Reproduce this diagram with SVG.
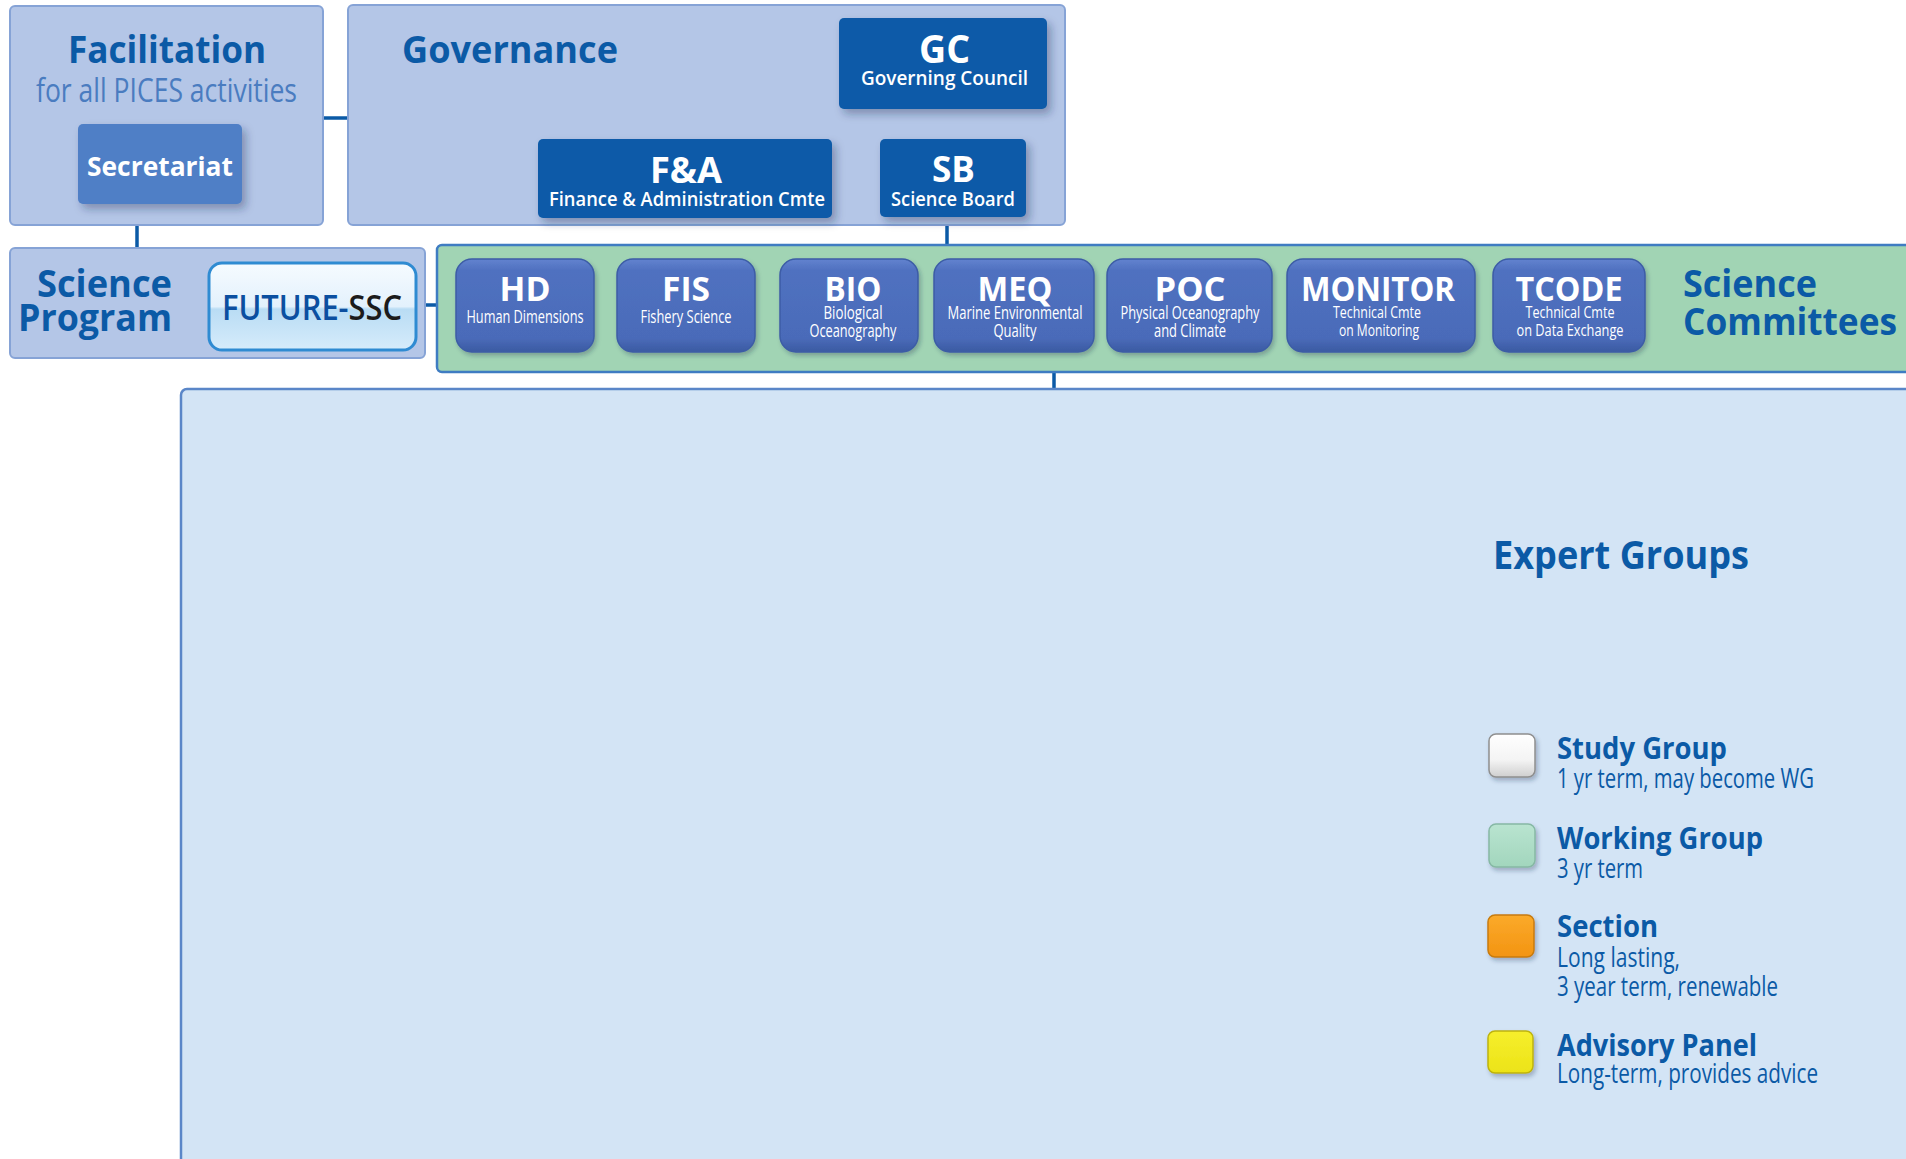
<svg xmlns="http://www.w3.org/2000/svg" width="1906" height="1159" viewBox="0 0 1906 1159">
<defs>
<style>
text{font-family:"Open Sans","Noto Sans","DejaVu Sans",sans-serif}
.cont{fill:#b4c6e7;stroke:#86a3d6;stroke-width:2}
.head{fill:#0b5aa6;font-weight:700}
.dark{fill:#0b5aa8}
.wt{fill:#ffffff;font-weight:700;text-anchor:middle}
.ws{fill:#ffffff;font-weight:400;text-anchor:middle}
.cm{fill:url(#gCm);stroke:#3c5ca6;stroke-width:1.5}
.leg{fill:#0b5aa6;font-weight:700;font-size:30px}
.legs{fill:#0b5aa6;font-weight:400;font-size:27px}
.conn line{stroke:#0b5aa6;stroke-width:3.5}
</style>
<filter id="sh" x="-15%" y="-15%" width="140%" height="150%">
<feDropShadow dx="4" dy="5" stdDeviation="4" flood-color="#1a2a50" flood-opacity="0.35"/>
</filter>
<filter id="shs" x="-20%" y="-20%" width="150%" height="150%">
<feDropShadow dx="2" dy="3" stdDeviation="2" flood-color="#1a2a50" flood-opacity="0.3"/>
</filter>
<linearGradient id="gCm" x1="0" y1="0" x2="0" y2="1">
<stop offset="0" stop-color="#6283cf"/>
<stop offset="0.12" stop-color="#5071c0"/>
<stop offset="0.85" stop-color="#4a6bb9"/>
<stop offset="1" stop-color="#3b5aa2"/>
</linearGradient>
<linearGradient id="gFut" x1="0" y1="0" x2="0" y2="1">
<stop offset="0" stop-color="#f6fbff"/>
<stop offset="0.5" stop-color="#e3f1fc"/>
<stop offset="0.53" stop-color="#b9dcf4"/>
<stop offset="1" stop-color="#d6ecfb"/>
</linearGradient>
<linearGradient id="gWhite" x1="0" y1="0" x2="0" y2="1">
<stop offset="0" stop-color="#ffffff"/>
<stop offset="0.6" stop-color="#f4f4f4"/>
<stop offset="1" stop-color="#cfcfcf"/>
</linearGradient>
<linearGradient id="gGreen" x1="0" y1="0" x2="0" y2="1">
<stop offset="0" stop-color="#b9e4d0"/>
<stop offset="1" stop-color="#a2d6bd"/>
</linearGradient>
<linearGradient id="gOrange" x1="0" y1="0" x2="0" y2="1">
<stop offset="0" stop-color="#fbaa2a"/>
<stop offset="1" stop-color="#f39412"/>
</linearGradient>
<linearGradient id="gYellow" x1="0" y1="0" x2="0" y2="1">
<stop offset="0" stop-color="#f6ef2c"/>
<stop offset="1" stop-color="#ece318"/>
</linearGradient>
</defs>
<rect x="0" y="0" width="1906" height="1159" fill="#ffffff"/>

<!-- connectors -->
<g id="connectors" class="conn">
<line x1="323" y1="118" x2="348" y2="118"/>
<line x1="137" y1="225" x2="137" y2="248"/>
<line x1="947" y1="217" x2="947" y2="245"/>
<line x1="425" y1="305" x2="437" y2="305"/>
<line x1="1054" y1="372" x2="1054" y2="389"/>
</g>

<!-- Facilitation -->
<g id="facilitation">
<rect class="cont" x="10" y="6" width="313" height="219" rx="5"/>
<text class="head" x="167" y="63" font-size="38" text-anchor="middle" textLength="198" lengthAdjust="spacingAndGlyphs">Facilitation</text>
<text x="166.5" y="102" font-size="33" fill="#4a7cc0" text-anchor="middle" textLength="261" lengthAdjust="spacingAndGlyphs">for all PICES activities</text>
</g>
<g id="secretariat">
<rect x="78" y="124" width="164" height="80" rx="5" fill="#4f7fc6" filter="url(#sh)"/>
<text class="wt" x="160" y="176" font-size="27" textLength="146" lengthAdjust="spacingAndGlyphs">Secretariat</text>
</g>

<!-- Governance -->
<g id="governance">
<rect class="cont" x="348" y="5" width="717" height="220" rx="5"/>
<text class="head" x="402" y="63" font-size="38" textLength="216" lengthAdjust="spacingAndGlyphs">Governance</text>
</g>
<g id="gc">
<rect class="dark" x="839" y="18" width="208" height="91" rx="5" filter="url(#sh)"/>
<text class="wt" x="944.5" y="63" font-size="39" textLength="51" lengthAdjust="spacingAndGlyphs">GC</text>
<text class="ws" x="944.5" y="85" font-size="19" font-weight="600" style="font-weight:600" textLength="167" lengthAdjust="spacingAndGlyphs">Governing Council</text>
</g>
<g id="fa">
<rect class="dark" x="538" y="139" width="294" height="79" rx="5" filter="url(#sh)"/>
<text class="wt" x="686" y="183" font-size="36" textLength="72" lengthAdjust="spacingAndGlyphs">F&amp;A</text>
<text class="ws" x="687" y="206" font-size="19" style="font-weight:600" textLength="276" lengthAdjust="spacingAndGlyphs">Finance &amp; Administration Cmte</text>
</g>
<g id="sb">
<rect class="dark" x="880" y="139" width="146" height="78" rx="5" filter="url(#sh)"/>
<text class="wt" x="953.5" y="182" font-size="36" textLength="43" lengthAdjust="spacingAndGlyphs">SB</text>
<text class="ws" x="953" y="206" font-size="19" style="font-weight:600" textLength="124" lengthAdjust="spacingAndGlyphs">Science Board</text>
</g>

<!-- Science Program -->
<g id="science-program">
<rect class="cont" x="10" y="248" width="415" height="110" rx="5"/>
<text class="head" x="172" y="297" font-size="38" text-anchor="end" textLength="135" lengthAdjust="spacingAndGlyphs">Science</text>
<text class="head" x="172" y="331" font-size="38" text-anchor="end" textLength="154" lengthAdjust="spacingAndGlyphs">Program</text>
</g>
<g id="future-ssc">
<rect x="209" y="263" width="207" height="87" rx="13" fill="url(#gFut)" stroke="#2f8bd2" stroke-width="3"/>
<text x="222" y="320" font-size="35" style="font-weight:600" textLength="180" lengthAdjust="spacingAndGlyphs"><tspan fill="#0b4fa0">FUTURE-</tspan><tspan fill="#1b1b1b">SSC</tspan></text>
</g>

<!-- Science Committees -->
<g id="science-committees">
<rect x="437" y="245" width="1485" height="127" rx="5" fill="#a1d4b4" stroke="#3f7cc2" stroke-width="2.5"/>
<text class="head" x="1683" y="297" font-size="38" textLength="134" lengthAdjust="spacingAndGlyphs">Science</text>
<text class="head" x="1683" y="335" font-size="38" textLength="214" lengthAdjust="spacingAndGlyphs">Committees</text>
</g>
<g id="hd">
<rect class="cm" x="456" y="259" width="138" height="93" rx="16" filter="url(#shs)"/>
<text class="wt" x="525" y="301" font-size="34" textLength="51" lengthAdjust="spacingAndGlyphs">HD</text>
<text class="ws" x="525" y="323" font-size="18" textLength="117" lengthAdjust="spacingAndGlyphs">Human Dimensions</text>
</g>
<g id="fis">
<rect class="cm" x="617" y="259" width="138" height="93" rx="16" filter="url(#shs)"/>
<text class="wt" x="686" y="301" font-size="34" textLength="48" lengthAdjust="spacingAndGlyphs">FIS</text>
<text class="ws" x="686" y="323" font-size="18" textLength="91" lengthAdjust="spacingAndGlyphs">Fishery Science</text>
</g>
<g id="bio">
<rect class="cm" x="780" y="259" width="138" height="93" rx="16" filter="url(#shs)"/>
<text class="wt" x="853" y="301" font-size="34" textLength="57" lengthAdjust="spacingAndGlyphs">BIO</text>
<text class="ws" x="853" y="319" font-size="18" textLength="59" lengthAdjust="spacingAndGlyphs">Biological</text>
<text class="ws" x="853" y="337" font-size="18" textLength="87" lengthAdjust="spacingAndGlyphs">Oceanography</text>
</g>
<g id="meq">
<rect class="cm" x="934" y="259" width="160" height="93" rx="16" filter="url(#shs)"/>
<text class="wt" x="1015" y="301" font-size="34" textLength="75" lengthAdjust="spacingAndGlyphs">MEQ</text>
<text class="ws" x="1015" y="319" font-size="18" textLength="135" lengthAdjust="spacingAndGlyphs">Marine Environmental</text>
<text class="ws" x="1015" y="337" font-size="18" textLength="43" lengthAdjust="spacingAndGlyphs">Quality</text>
</g>
<g id="poc">
<rect class="cm" x="1107" y="259" width="165" height="93" rx="16" filter="url(#shs)"/>
<text class="wt" x="1190" y="301" font-size="34" textLength="71" lengthAdjust="spacingAndGlyphs">POC</text>
<text class="ws" x="1190" y="319" font-size="18" textLength="139" lengthAdjust="spacingAndGlyphs">Physical Oceanography</text>
<text class="ws" x="1190" y="337" font-size="18" textLength="72" lengthAdjust="spacingAndGlyphs">and Climate</text>
</g>
<g id="monitor">
<rect class="cm" x="1287" y="259" width="188" height="93" rx="16" filter="url(#shs)"/>
<text class="wt" x="1378" y="301" font-size="34" textLength="154" lengthAdjust="spacingAndGlyphs">MONITOR</text>
<text class="ws" x="1377" y="318" font-size="17" textLength="88" lengthAdjust="spacingAndGlyphs">Technical Cmte</text>
<text class="ws" x="1379" y="336" font-size="17" textLength="80" lengthAdjust="spacingAndGlyphs">on Monitoring</text>
</g>
<g id="tcode">
<rect class="cm" x="1493" y="259" width="152" height="93" rx="16" filter="url(#shs)"/>
<text class="wt" x="1569" y="301" font-size="34" textLength="107" lengthAdjust="spacingAndGlyphs">TCODE</text>
<text class="ws" x="1570" y="318" font-size="17" textLength="89" lengthAdjust="spacingAndGlyphs">Technical Cmte</text>
<text class="ws" x="1570" y="336" font-size="17" textLength="107" lengthAdjust="spacingAndGlyphs">on Data Exchange</text>
</g>

<!-- Expert Groups -->
<g id="expert-groups">
<rect x="181" y="389" width="1745" height="790" rx="6" fill="#d3e4f5" stroke="#5a86c8" stroke-width="2.5"/>
<text class="head" x="1493" y="569" font-size="40" textLength="256" lengthAdjust="spacingAndGlyphs">Expert Groups</text>
</g>

<!-- Legend -->
<g id="legend-study">
<rect x="1489" y="734" width="46" height="43" rx="7" fill="url(#gWhite)" stroke="#8f8f8f" stroke-width="1.5" filter="url(#shs)"/>
<text class="leg" x="1557" y="759" textLength="170" lengthAdjust="spacingAndGlyphs">Study Group</text>
<text class="legs" x="1557" y="788" textLength="257" lengthAdjust="spacingAndGlyphs">1 yr term, may become WG</text>
</g>
<g id="legend-working">
<rect x="1489" y="824" width="46" height="43" rx="7" fill="url(#gGreen)" stroke="#86b8a4" stroke-width="1.5" filter="url(#shs)"/>
<text class="leg" x="1557" y="849" textLength="206" lengthAdjust="spacingAndGlyphs">Working Group</text>
<text class="legs" x="1557" y="878" textLength="86" lengthAdjust="spacingAndGlyphs">3 yr term</text>
</g>
<g id="legend-section">
<rect x="1488" y="915" width="46" height="42" rx="7" fill="url(#gOrange)" stroke="#c77b0e" stroke-width="1.5" filter="url(#shs)"/>
<text class="leg" x="1557" y="937" textLength="101" lengthAdjust="spacingAndGlyphs">Section</text>
<text class="legs" x="1557" y="967" textLength="123" lengthAdjust="spacingAndGlyphs">Long lasting,</text>
<text class="legs" x="1557" y="996" textLength="221" lengthAdjust="spacingAndGlyphs">3 year term, renewable</text>
</g>
<g id="legend-advisory">
<rect x="1488" y="1031" width="45" height="42" rx="7" fill="url(#gYellow)" stroke="#bdb30e" stroke-width="1.5" filter="url(#shs)"/>
<text class="leg" x="1557" y="1056" textLength="200" lengthAdjust="spacingAndGlyphs">Advisory Panel</text>
<text class="legs" x="1557" y="1083" textLength="261" lengthAdjust="spacingAndGlyphs">Long-term, provides advice</text>
</g>
</svg>
